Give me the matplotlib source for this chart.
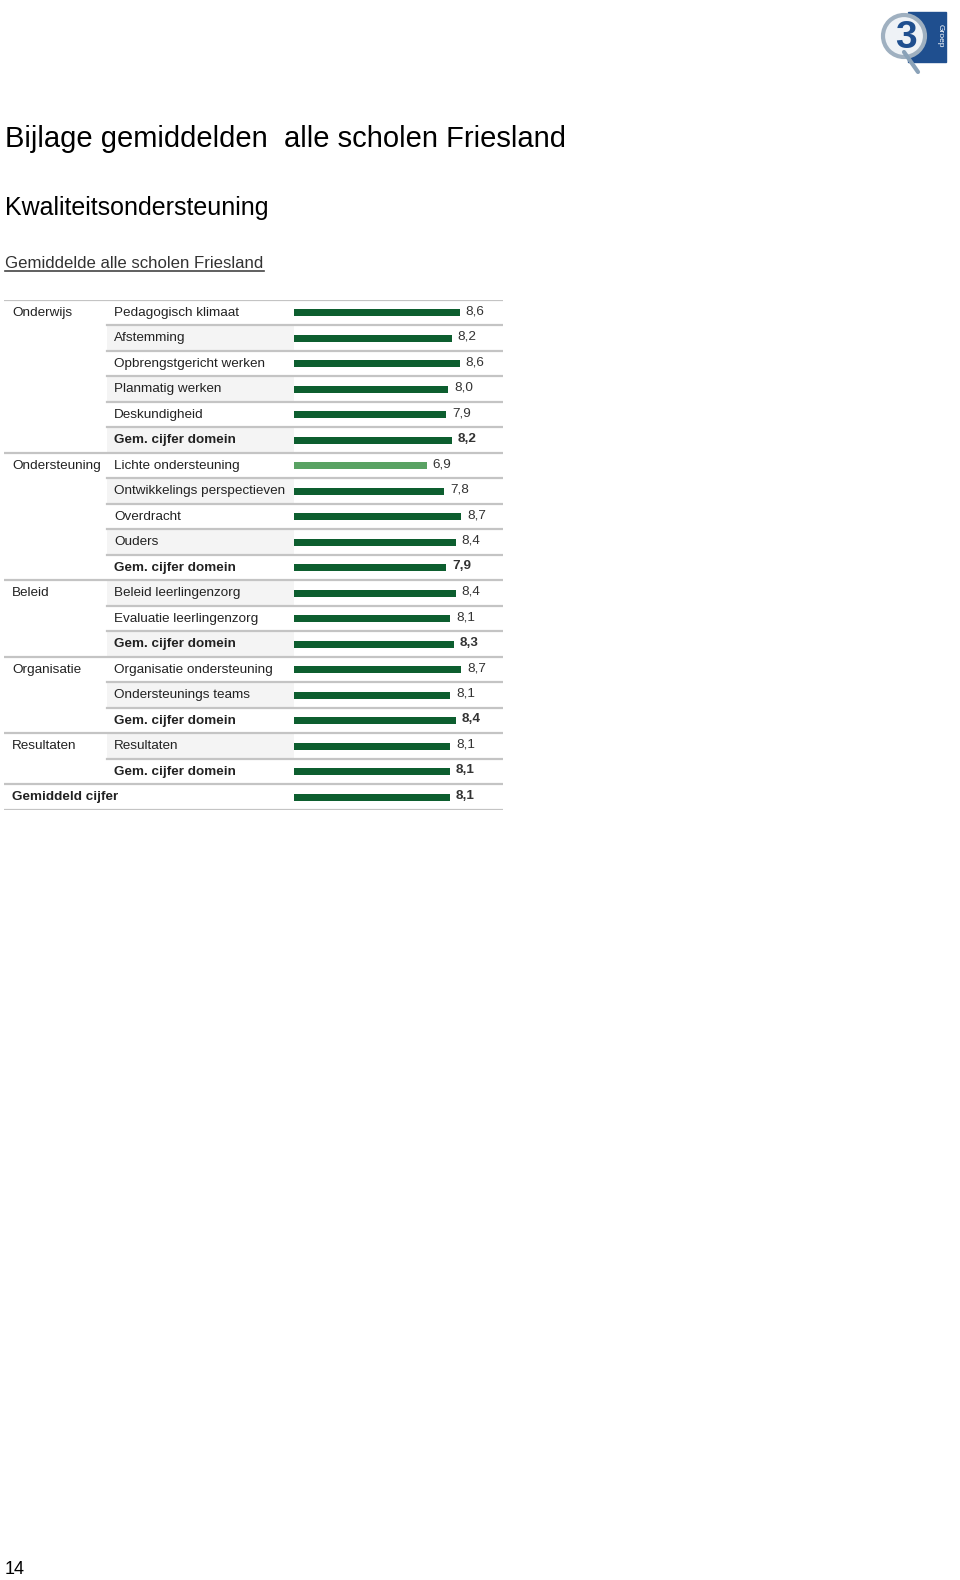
"""Bijlage gemiddelden alle scholen Friesland - kwaliteitsondersteuning."""
import matplotlib
matplotlib.use("Agg")
import matplotlib.pyplot as plt
from matplotlib.patches import Circle, Rectangle

DOMAIN_LABELS = ["Onderwijs", "", "", "", "", "",
                 "Ondersteuning", "", "", "", "",
                 "Beleid", "", "",
                 "Organisatie", "", "",
                 "Resultaten", "",
                 "Gemiddeld cijfer"]
ITEM_LABELS = ["Pedagogisch klimaat", "Afstemming", "Opbrengstgericht werken",
               "Planmatig werken", "Deskundigheid", "Gem. cijfer domein",
               "Lichte ondersteuning", "Ontwikkelings perspectieven", "Overdracht",
               "Ouders", "Gem. cijfer domein",
               "Beleid leerlingenzorg", "Evaluatie leerlingenzorg", "Gem. cijfer domein",
               "Organisatie ondersteuning", "Ondersteunings teams", "Gem. cijfer domein",
               "Resultaten", "Gem. cijfer domein",
               ""]
SCORES = [8.6, 8.2, 8.6, 8.0, 7.9, 8.2,
          6.9, 7.8, 8.7, 8.4, 7.9,
          8.4, 8.1, 8.3,
          8.7, 8.1, 8.4,
          8.1, 8.1,
          8.1]
# index of the last row of each domain (full-width separator below it)
DOMAIN_ENDS = [5, 10, 13, 16, 18, 19]
BOLD_ROWS = [5, 10, 13, 16, 18, 19]

W, H = 960, 1580
DARK_GREEN = "#0d5e2f"
LIGHT_GREEN = "#59a263"
TEXT = "#222222"
LINE = "#c4c4c4"

plt.rcParams["font.family"] = ["Liberation Sans", "DejaVu Sans"]

fig = plt.figure(figsize=(W / 100, H / 100), dpi=100)


def px(x, y):
    return x / W, 1 - y / H


# headings
fig.text(*px(5, 139), "Bijlage gemiddelden  alle scholen Friesland", fontsize=21,
         color="black", va="center", ha="left")
fig.text(*px(5, 208), "Kwaliteitsondersteuning", fontsize=18, color="black",
         va="center", ha="left")
fig.text(*px(5, 263), "Gemiddelde alle scholen Friesland", fontsize=12.1,
         color="#333333", va="center", ha="left")
fig.add_artist(plt.Line2D([5 / W, 264 / W], [1 - 271 / H] * 2, color="#444444", lw=1.2))
fig.text(*px(5, 1570), "14", fontsize=13, color="black", va="center", ha="left")

# logo (rough sketch)
lax = fig.add_axes([874 / W, 1 - 80 / H, 80 / W, 80 / H])
lax.set_xlim(0, 80)
lax.set_ylim(80, 0)
lax.axis("off")
lax.add_patch(Rectangle((34, 12), 38, 50, color="#1f4f8f"))
lax.plot([30, 44], [52, 72], color="#8aa2b8", lw=3, solid_capstyle="round")
lax.add_patch(Circle((30, 36), 21, facecolor="#eef2f6", edgecolor="#9fb0c0", lw=3))
lax.text(32, 38, "3", fontsize=28, fontweight="bold", color="#1f4f8f",
         ha="center", va="center")
lax.text(66, 36, "Groep", fontsize=6, color="white", rotation=-90,
         ha="center", va="center")

# table
left, right, top, bottom = 4, 503, 300, 810
zero_px, unit_px = 294, 19.25
ax = fig.add_axes([left / W, 1 - bottom / H, (right - left) / W, (bottom - top) / H])
n = len(SCORES)
ax.set_xlim(-(zero_px - left) / unit_px, (right - zero_px) / unit_px)
ax.set_ylim(n - 0.5, -0.5)
ax.axis("off")


def xfrac(p):
    return (p - left) / (right - left)


for i in range(n):
    if i % 2 == 1 and i < n - 1:
        ax.axhspan(i - 0.5, i + 0.5, xmin=xfrac(107), xmax=xfrac(294),
                   color="#f4f4f4", lw=0, zorder=0)

ax.axhline(-0.5, color=LINE, lw=1.6, zorder=1)
for i in range(n):
    start = 0 if i in DOMAIN_ENDS else xfrac(107)
    ax.axhline(i + 0.5, xmin=start, xmax=1, color=LINE, lw=1.6, zorder=1)

colors = [LIGHT_GREEN if s < 7 else DARK_GREEN for s in SCORES]
ax.barh(range(n), SCORES, height=0.28, color=colors, zorder=2)

ytrans = ax.get_yaxis_transform()
for i, (dom, item, score) in enumerate(zip(DOMAIN_LABELS, ITEM_LABELS, SCORES)):
    weight = "bold" if i in BOLD_ROWS else "normal"
    dom_weight = "bold" if i == n - 1 else "normal"
    ax.text(xfrac(12), i, dom, transform=ytrans, fontsize=9.7, color=TEXT,
            ha="left", va="center", fontweight=dom_weight)
    ax.text(xfrac(114), i, item, transform=ytrans, fontsize=9.7, color=TEXT,
            ha="left", va="center", fontweight=weight)
    ax.annotate(f"{score:.1f}".replace(".", ","), (score, i), xytext=(4.3, 1),
                textcoords="offset points", fontsize=9.7, color="#333333",
                ha="left", va="center", fontweight=weight)

fig.savefig("out.png", dpi=100)
